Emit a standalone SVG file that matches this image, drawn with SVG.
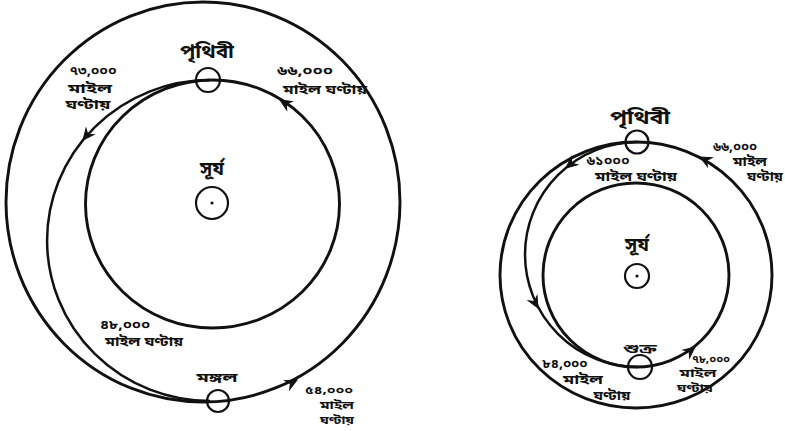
<svg xmlns="http://www.w3.org/2000/svg" xmlns:xlink="http://www.w3.org/1999/xlink" width="785" height="431" viewBox="0 0 785 431">
<style>
.orb{fill:none;stroke:#111;stroke-width:2.9}
.tr{fill:none;stroke:#111;stroke-width:2.5}
.pl{fill:none;stroke:#111;stroke-width:2.2}
.t{font-family:"Noto Sans Bengali","Noto Serif Bengali","Lohit Bengali","Noto Sans",sans-serif;font-weight:bold;fill:#111;text-anchor:middle}
.big{font-size:19px}
.sm{font-size:13px}
.xs{font-size:12px}
.xxs{font-size:10.5px}
</style>
<defs>
<path id="ah" d="M0 0 L-11 -5 L-7.5 0 L-11 5 Z" fill="#111" stroke="#111" stroke-width="1"/>
</defs>
<rect width="785" height="431" fill="#fff"/>
<g id="connectors">
<ellipse class="orb" cx="212.5" cy="204" rx="127" ry="124"/>
<ellipse class="orb" cx="203" cy="202" rx="197" ry="200"/>
<path class="tr" d="M210 80 A163 160.5 0 0 0 210 401"/>
<ellipse class="orb" cx="636" cy="275" rx="136" ry="133"/>
<ellipse class="orb" cx="636" cy="275" rx="93" ry="92"/>
<path class="tr" d="M638 142 A113 112.5 0 0 0 638 367"/>
<use xlink:href="#ah" transform="translate(83,140) rotate(129)"/>
<use xlink:href="#ah" transform="translate(280,100) rotate(-148)"/>
<use xlink:href="#ah" transform="translate(297,380) rotate(-28)"/>
<use xlink:href="#ah" transform="translate(700,157) rotate(-152)"/>
<use xlink:href="#ah" transform="translate(538,308) rotate(61)"/>
<use xlink:href="#ah" transform="translate(566,168) rotate(140)"/>
<use xlink:href="#ah" transform="translate(695,347) rotate(-39)"/>
</g>
<g id="sun-left"><circle class="pl" cx="212" cy="203" r="16"/><circle cx="212" cy="203" r="1.6" fill="#111"/><text class="t big" x="212" y="175">সূর্য</text></g>
<g id="earth-left"><circle class="pl" cx="208" cy="80" r="12"/><text class="t big" x="207" y="58" textLength="54" lengthAdjust="spacingAndGlyphs">পৃথিবী</text></g>
<g id="mars"><circle class="pl" cx="218" cy="401" r="11"/><text class="t sm" x="217" y="382" textLength="41" lengthAdjust="spacingAndGlyphs">মঙ্গল</text></g>
<g id="label-73000"><text class="t sm" x="93" y="75" textLength="47" lengthAdjust="spacingAndGlyphs">৭৩,০০০</text><text class="t xs" x="90" y="93" textLength="44" lengthAdjust="spacingAndGlyphs">মাইল</text><text class="t xs" x="88" y="109" textLength="45" lengthAdjust="spacingAndGlyphs">ঘণ্টায়</text></g>
<g id="label-66000-left"><text class="t sm" x="305" y="75" textLength="56" lengthAdjust="spacingAndGlyphs">৬৬,০০০</text><text class="t sm" x="325" y="94" textLength="84" lengthAdjust="spacingAndGlyphs">মাইল ঘণ্টায়</text></g>
<g id="label-48000"><text class="t xs" x="125" y="329" textLength="50" lengthAdjust="spacingAndGlyphs">৪৮,০০০</text><text class="t sm" x="144" y="346" textLength="78" lengthAdjust="spacingAndGlyphs">মাইল ঘণ্টায়</text></g>
<g id="label-54000"><text class="t xxs" x="329" y="394" textLength="48" lengthAdjust="spacingAndGlyphs">৫৪,০০০</text><text class="t xxs" x="337" y="409" textLength="34" lengthAdjust="spacingAndGlyphs">মাইল</text><text class="t xxs" x="337" y="424" textLength="34" lengthAdjust="spacingAndGlyphs">ঘণ্টায়</text></g>
<g id="sun-right"><circle class="pl" cx="637" cy="276" r="12"/><circle cx="637" cy="276" r="1.6" fill="#111"/><text class="t big" x="637" y="251">সূর্য</text></g>
<g id="earth-right"><circle class="pl" cx="637" cy="142" r="11.5"/><text class="t big" x="640" y="124" textLength="60" lengthAdjust="spacingAndGlyphs">পৃথিবী</text></g>
<g id="venus"><circle class="pl" cx="640" cy="367" r="12"/><text class="t sm" x="640" y="353" textLength="34" lengthAdjust="spacingAndGlyphs">শুক্র</text></g>
<g id="label-61000"><text class="t xs" x="608" y="165" textLength="43" lengthAdjust="spacingAndGlyphs">৬১০০০</text><text class="t sm" x="636" y="181" textLength="82" lengthAdjust="spacingAndGlyphs">মাইল ঘণ্টায়</text></g>
<g id="label-66000-right"><text class="t xs" x="735" y="151" textLength="44" lengthAdjust="spacingAndGlyphs">৬৬,০০০</text><text class="t xs" x="750" y="166" textLength="34" lengthAdjust="spacingAndGlyphs">মাইল</text><text class="t xs" x="765" y="181" textLength="36" lengthAdjust="spacingAndGlyphs">ঘণ্টায়</text></g>
<g id="label-84000"><text class="t xs" x="565" y="368" textLength="45" lengthAdjust="spacingAndGlyphs">৮৪,০০০</text><text class="t sm" x="583" y="384" textLength="40" lengthAdjust="spacingAndGlyphs">মাইল</text><text class="t sm" x="612" y="400" textLength="37" lengthAdjust="spacingAndGlyphs">ঘণ্টায়</text></g>
<g id="label-78000"><text class="t xxs" x="711" y="363" textLength="38" lengthAdjust="spacingAndGlyphs">৭৮,০০০</text><text class="t xxs" x="698" y="377" textLength="37" lengthAdjust="spacingAndGlyphs">মাইল</text><text class="t xxs" x="695" y="392" textLength="36" lengthAdjust="spacingAndGlyphs">ঘণ্টায়</text></g>
</svg>
